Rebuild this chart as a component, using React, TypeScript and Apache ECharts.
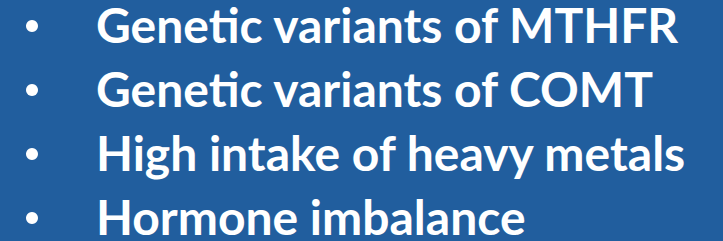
import React, { useEffect, useRef } from "react";
import * as echarts from "echarts";

const bulletLines: string[] = [
  "Genetic variants of MTHFR",
  "Genetic variants of COMT",
  "High intake of heavy metals",
  "Hormone imbalance",
];

const BG = "#215E9E";

export default function App() {
  const ref = useRef<HTMLDivElement>(null);
  useEffect(() => {
    if (!ref.current) return;
    const chart = echarts.init(ref.current, undefined, { renderer: "svg" });
    const top = 26;
    const step = 64;
    const elements: any[] = [];
    bulletLines.forEach((t, i) => {
      const cy = top + i * step;
      elements.push({
        type: "circle",
        shape: { cx: 32, cy: cy, r: 6 },
        style: { fill: "#ffffff" },
      });
      elements.push({
        type: "text",
        x: 96,
        y: cy - 2,
        style: {
          text: t,
          fill: "#ffffff",
          font: "bold 48px Lato, 'Open Sans', sans-serif",
          verticalAlign: "middle",
          align: "left",
        },
      });
    });
    chart.setOption({
      animation: false,
      backgroundColor: BG,
      graphic: { elements },
    });
    return () => chart.dispose();
  }, []);
  return (
    <div
      ref={ref}
      style={{ position: "fixed", left: 0, top: 0, width: 723, height: 241 }}
    />
  );
}
